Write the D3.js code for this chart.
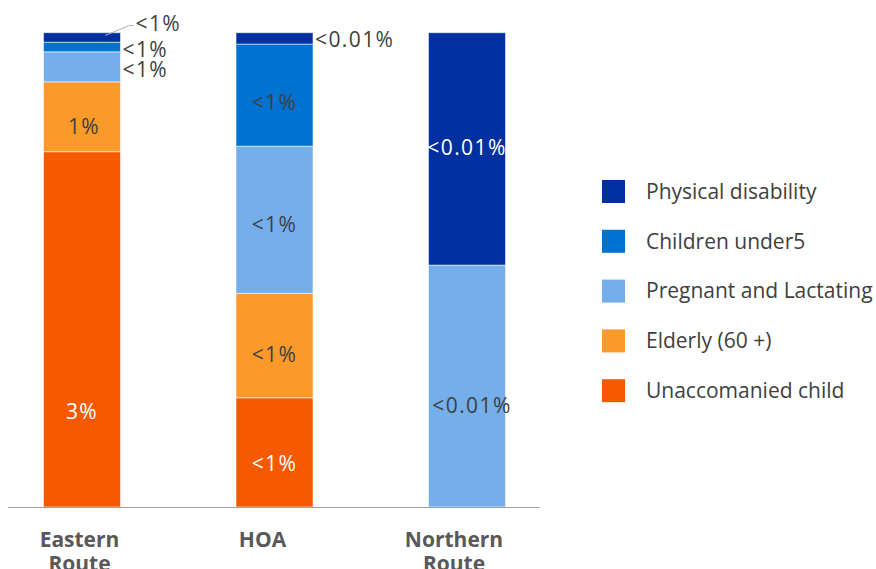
<!DOCTYPE html>
<html>
<head>
<meta charset="utf-8">
<script src="https://cdn.jsdelivr.net/npm/d3@7/dist/d3.min.js"></script>
<style>
  html, body { margin: 0; padding: 0; background: #fff; overflow: hidden; }
  svg { display: block; }
  text { font-family: "Open Sans", "Noto Sans", sans-serif; }
</style>
</head>
<body>
<svg id="chart" width="876" height="569"></svg>
<script>
// Routes (bars) and vulnerable groups (stacked segments), shares in percent of population
const routes = ["Eastern Route", "HOA", "Northern Route"];
const groups = ["Unaccomanied child", "Elderly (60 +)", "Pregnant and Lactating", "Children under5", "Physical disability"];

const unaccompanied = [2.9,   0.092,  0];
const elderly       = [0.57,  0.088,  0];
const pregnant      = [0.245, 0.124,  0.0051];
const childrenU5    = [0.078, 0.086,  0];
const disability    = [0.078, 0.0096, 0.0049];

// Printed value labels per route, in the same group order
const labelsEastern  = ["3%", "1%", "<1%", "<1%", "<1%"];
const labelsHOA      = ["<1%", "<1%", "<1%", "<1%", "<0.01%"];
const labelsNorthern = ["", "", "<0.01%", "", "<0.01%"];

const colors = ["#F55A00", "#FC992B", "#74AEEB", "#0072CF", "#00309F"];

const seriesValues = [unaccompanied, elderly, pregnant, childrenU5, disability];
const routeLabels = [labelsEastern, labelsHOA, labelsNorthern];

const rows = routes.map((r, i) => {
  const o = { route: r };
  groups.forEach((g, k) => { o[g] = seriesValues[k][i]; });
  return o;
});

const svg = d3.select("#chart");

const x = d3.scaleBand().domain(routes).range([43.5, 505.5]).paddingInner(0.6).paddingOuter(0);
const y = d3.scaleLinear().domain([0, 1]).range([507, 32.7]);

const stacked = d3.stack().keys(groups).offset(d3.stackOffsetExpand)(rows);

// Segments
svg.append("g").selectAll("g")
  .data(stacked)
  .join("g")
  .attr("fill", (d, k) => colors[k])
  .selectAll("rect")
  .data(d => d)
  .join("rect")
  .attr("x", d => x(d.data.route))
  .attr("width", x.bandwidth())
  .attr("y", d => y(d[1]))
  .attr("height", d => Math.max(0, y(d[0]) - y(d[1])))
  .attr("stroke", "rgba(255,255,255,0.55)")
  .attr("stroke-width", 1);

// Baseline
svg.append("line")
  .attr("x1", 8).attr("x2", 540)
  .attr("y1", y(0) + 0.5).attr("y2", y(0) + 0.5)
  .attr("stroke", "#a0a0a0").attr("stroke-width", 1);

// Category axis, two-line tick labels (slightly left of each bar's centre)
const tickShift = { "Eastern Route": -2.5, "HOA": -12, "Northern Route": -13 };
const xAxis = d3.axisBottom(x).tickSize(0).tickPadding(0);
const axG = svg.append("g").attr("transform", `translate(0,${y(0)})`).call(xAxis);
axG.select(".domain").remove();
axG.selectAll(".tick text").remove();
axG.selectAll(".tick").each(function (d) {
  const words = d.split(" ");
  const t = d3.select(this).append("text")
    .attr("fill", "#58595B")
    .attr("font-family", "Lato, 'Open Sans', sans-serif")
    .attr("font-size", 21)
    .attr("font-weight", 700)
    .attr("text-anchor", "middle");
  words.forEach((w, i) => {
    t.append("tspan").attr("x", tickShift[d] || 0).attr("y", 39.7 + i * 24).text(w);
  });
});

// Value labels: inside the segment, or beside the bar when the segment is thin
const whiteOn = new Set(["Eastern Route|0", "HOA|0", "Northern Route|4"]);
const beside = new Set(["Eastern Route|2", "Eastern Route|3", "Eastern Route|4", "HOA|4"]);
const nudge = {
  "Eastern Route|0": 82, "Eastern Route|1": 10, "Eastern Route|2": 3, "Eastern Route|3": 3, "Eastern Route|4": -14,
  "HOA|0": 11, "HOA|1": 9, "HOA|2": 5, "HOA|3": 8, "HOA|4": 1,
  "Northern Route|2": 20, "Northern Route|4": -1
};
const nudgeX = { "Northern Route|2": 5, "Eastern Route|1": 2 };

const labelG = svg.append("g");
stacked.forEach((s, k) => {
  s.forEach((d, i) => {
    const txt = routeLabels[i][k];
    if (!txt) return;
    const key = d.data.route + "|" + k;
    const mid = (y(d[0]) + y(d[1])) / 2 + (nudge[key] || 0);
    let tx, anchor;
    if (beside.has(key)) {
      tx = x(d.data.route) + x.bandwidth() + (k === 4 && i === 0 ? 15 : 2);
      anchor = "start";
    } else {
      tx = x(d.data.route) + x.bandwidth() / 2 + (nudgeX[key] || 0);
      anchor = "middle";
    }
    labelG.append("text")
      .attr("x", tx)
      .attr("y", mid)
      .attr("dy", "0.35em")
      .attr("text-anchor", anchor)
      .attr("font-size", 21)
      .attr("letter-spacing", 1.4)
      .attr("fill", whiteOn.has(key) ? "#ffffff" : "#404040")
      .text(txt);
    if (k === 4 && i === 0) {
      // leader line from the thin top segment to its label
      const bx = x(d.data.route) + x.bandwidth() * 0.8;
      const by = (y(d[0]) + y(d[1])) / 2 - 2;
      labelG.append("path")
        .attr("d", `M${bx},${by}L${tx - 6},${mid + 2}L${tx - 2},${mid + 2}`)
        .attr("fill", "none")
        .attr("stroke", "#b0b0b0")
        .attr("stroke-width", 1);
    }
  });
});

// Legend, listed from top segment to bottom
const legendOrder = groups.map((g, k) => ({ g, c: colors[k] })).reverse();
const lg = svg.append("g").attr("transform", "translate(602,180)");
const item = lg.selectAll("g").data(legendOrder).join("g")
  .attr("transform", (d, i) => `translate(0,${i * 49.8})`);
item.append("rect").attr("width", 23).attr("height", 23).attr("fill", d => d.c);
item.append("text")
  .attr("x", 44).attr("y", 11.5).attr("dy", "0.35em")
  .attr("font-size", 21)
  .attr("fill", "#404040")
  .text(d => d.g);
</script>
</body>
</html>
